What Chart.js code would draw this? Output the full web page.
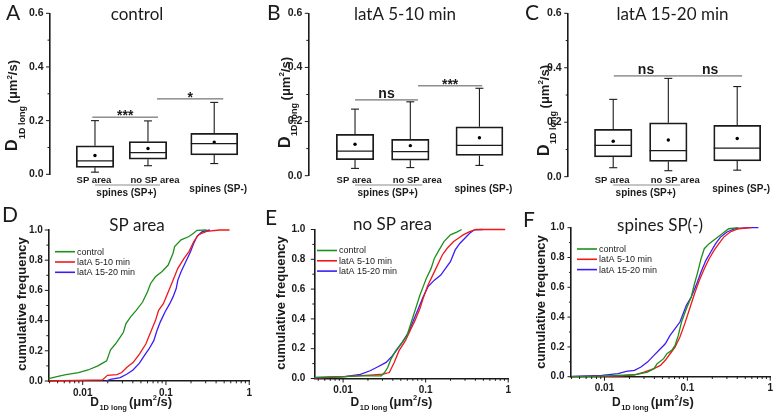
<!DOCTYPE html>
<html><head><meta charset="utf-8">
<script src="https://cdn.jsdelivr.net/npm/chart.js@4.4.1/dist/chart.umd.min.js"></script>
<style>
html,body{margin:0;padding:0;background:#fff;}
#fig{position:relative;width:779px;height:417px;overflow:hidden;background:#fff;}
#fig canvas{position:absolute;}
</style></head><body>
<div id="fig">
<canvas id="cA"></canvas><canvas id="cB"></canvas><canvas id="cC"></canvas>
<canvas id="cD"></canvas><canvas id="cE"></canvas><canvas id="cF"></canvas>
</div>
<script>
// ================= DATA =================
const boxPositions = [1, 2, 3.25];
const boxCategoryLabels = ['SP area', 'no SP area', 'spines (SP-)'];
const boxGroupLabel = 'spines (SP+)';
const boxYTicks = [0, 0.2, 0.4, 0.6];
const cdfYTicks = [0, 0.2, 0.4, 0.6, 0.8, 1.0];
const cdfXTicks = [0.01, 0.1, 1];
const seriesNames = ['control', 'latA 5-10 min', 'latA 15-20 min'];

// A: control (box plots: whisker low, Q1, median, Q3, whisker high, mean)
const ctrlLow  = [0.008, 0.032, 0.040];
const ctrlQ1   = [0.026, 0.056, 0.072];
const ctrlMed  = [0.050, 0.081, 0.114];
const ctrlQ3   = [0.106, 0.122, 0.153];
const ctrlHigh = [0.200, 0.199, 0.268];
const ctrlMean = [0.070, 0.096, 0.120];
const ctrlSig  = [[0.95, 2.19, 0.213, '***'], [2.17, 3.42, 0.281, '*']];

// B: latA 5-10 min
const lat5Low  = [0.027, 0.030, 0.038];
const lat5Q1   = [0.059, 0.057, 0.075];
const lat5Med  = [0.091, 0.089, 0.112];
const lat5Q3   = [0.153, 0.134, 0.181];
const lat5High = [0.246, 0.273, 0.323];
const lat5Mean = [0.116, 0.111, 0.140];
const lat5Sig  = [[1.0, 2.14, 0.280, 'ns'], [2.14, 3.30, 0.332, '***']];

// C: latA 15-20 min
const lat15Low  = [0.033, 0.022, 0.024];
const lat15Q1   = [0.073, 0.056, 0.058];
const lat15Med  = [0.115, 0.096, 0.105];
const lat15Q3   = [0.174, 0.198, 0.189];
const lat15High = [0.284, 0.361, 0.331];
const lat15Mean = [0.130, 0.135, 0.140];
const lat15Sig  = [[1.01, 2.18, 0.370, 'ns'], [2.18, 3.34, 0.370, 'ns']];

// D: SP area cumulative frequency
const spCtrlX = [0.0039,0.0052,0.0063,0.0089,0.0116,0.0152,0.0173,0.0194,0.0207,0.0216,0.0247,0.0282,0.0308,0.033,0.0374,0.0439,0.0524,0.0598,0.0654,0.0747,0.0891,0.1064,0.1216,0.127,0.1518,0.189,0.216,0.236,0.308];
const spCtrlY = [0.016,0.033,0.042,0.056,0.073,0.10,0.118,0.134,0.178,0.207,0.245,0.29,0.323,0.379,0.423,0.468,0.523,0.59,0.646,0.69,0.724,0.768,0.846,0.89,0.935,0.957,0.98,0.998,1.0];
const spLat5X = [0.0039,0.0173,0.0198,0.0258,0.0294,0.0337,0.0402,0.048,0.0573,0.0654,0.0747,0.0816,0.0931,0.1064,0.1216,0.1388,0.1657,0.189,0.216,0.2466,0.308,0.4385,0.58];
const spLat5Y = [0,0.007,0.038,0.042,0.056,0.089,0.122,0.178,0.245,0.323,0.40,0.468,0.512,0.59,0.668,0.746,0.813,0.857,0.924,0.969,0.991,1.0,1.0];
const spLat15X = [0.0189,0.0216,0.0282,0.0337,0.0402,0.048,0.0547,0.0625,0.0714,0.078,0.0853,0.0974,0.111,0.1216,0.1328,0.1388,0.1518,0.173,0.1977,0.216,0.236,0.27,0.337];
const spLat15Y = [0,0.011,0.022,0.045,0.073,0.118,0.167,0.212,0.267,0.334,0.39,0.457,0.512,0.557,0.612,0.668,0.724,0.79,0.857,0.913,0.958,0.987,1.0];

// E: no SP area
const nsCtrlX = [0.0045,0.0104,0.0162,0.029,0.0318,0.0347,0.038,0.0435,0.052,0.0594,0.065,0.0711,0.0778,0.0851,0.0931,0.1018,0.1164,0.1274,0.1456,0.1667,0.1995,0.238,0.273];
const nsCtrlY = [0.007,0.013,0.018,0.018,0.04,0.074,0.13,0.187,0.243,0.288,0.356,0.423,0.491,0.559,0.615,0.671,0.739,0.806,0.863,0.919,0.964,0.982,1.0];
const nsLat5X = [0.0045,0.0104,0.0212,0.0304,0.0363,0.0416,0.0476,0.0569,0.065,0.0744,0.0851,0.0931,0.1064,0.1219,0.1393,0.1592,0.1822,0.218,0.2493,0.285,0.341,0.408,0.92];
const nsLat5Y = [0.002,0.013,0.023,0.029,0.04,0.108,0.187,0.254,0.322,0.39,0.468,0.536,0.626,0.694,0.761,0.829,0.874,0.919,0.941,0.964,0.986,1.0,1.0];
const nsLat15X = [0.0045,0.0104,0.0162,0.0212,0.0254,0.0332,0.0397,0.0455,0.052,0.0622,0.0711,0.0815,0.0931,0.1064,0.1274,0.1524,0.1742,0.1995,0.228,0.2606,0.2983,0.341,0.39,0.489];
const nsLat15Y = [0.005,0.013,0.027,0.052,0.074,0.108,0.153,0.198,0.243,0.311,0.39,0.468,0.547,0.615,0.66,0.694,0.739,0.784,0.863,0.908,0.941,0.975,0.998,1.0];

// F: spines SP(-)
const smCtrlX = [0.004,0.0093,0.0146,0.023,0.033,0.0395,0.0432,0.0517,0.0566,0.0648,0.071,0.0777,0.085,0.0973,0.1114,0.1219,0.1334,0.1462,0.16,0.1832,0.2193,0.263,0.3148,0.413];
const smCtrlY = [0,0.004,0.009,0.013,0.031,0.054,0.087,0.121,0.154,0.177,0.21,0.277,0.367,0.456,0.535,0.624,0.702,0.792,0.859,0.893,0.926,0.96,0.993,1.0];
const smLat5X = [0.004,0.0146,0.023,0.0301,0.0395,0.0473,0.0541,0.0619,0.071,0.0813,0.0931,0.1065,0.1219,0.1396,0.16,0.1832,0.2098,0.24,0.2748,0.3294,0.413,0.593];
const smLat5Y = [0,0.004,0.013,0.031,0.054,0.076,0.11,0.154,0.199,0.266,0.356,0.456,0.557,0.647,0.725,0.792,0.848,0.893,0.937,0.971,0.993,1.0];
const smLat15X = [0.004,0.0093,0.0146,0.0183,0.023,0.0275,0.033,0.0395,0.0473,0.0541,0.0619,0.071,0.0813,0.0889,0.0973,0.1114,0.1276,0.1462,0.1675,0.1915,0.2193,0.2512,0.3008,0.3767,0.5408,0.72];
const smLat15Y = [0.002,0.009,0.02,0.036,0.043,0.065,0.098,0.143,0.188,0.221,0.277,0.322,0.367,0.423,0.479,0.535,0.613,0.702,0.781,0.837,0.893,0.937,0.971,0.993,1.0,1.0];

// ================= STYLE / LAYOUT =================
const F = "'Liberation Sans', Arial, sans-serif";
const TF = "Lato, 'Open Sans', sans-serif";
const INK = '#1b1b1b';
const seriesColors = ['#1d8f1d', '#f01818', '#3d1cf5'];
const boxWidthsPx = [37.5, 37.5, 47];

const boxPanels = [
  {id:'cA', cx:0,   cy:0, w:258, h:205, left:49.5,  top:13.3, bottom:174.3, right:250, xmin:0.142, xmax:3.925,
   letter:'A', letterX:6, letterY:20, title:'control', titleX:137, yTitleX:17, yTitleY:151,
   low:ctrlLow, q1:ctrlQ1, med:ctrlMed, q3:ctrlQ3, high:ctrlHigh, mean:ctrlMean, sig:ctrlSig},
  {id:'cB', cx:258, cy:0, w:259, h:205, left:308.3, top:13.3, bottom:175.7, right:512, xmin:0.155, xmax:3.839,
   letter:'B', letterX:267, letterY:20, title:'latA 5-10 min', titleX:405, yTitleX:289.5, yTitleY:148,
   low:lat5Low, q1:lat5Q1, med:lat5Med, q3:lat5Q3, high:lat5High, mean:lat5Mean, sig:lat5Sig},
  {id:'cC', cx:517, cy:0, w:262, h:205, left:567.7, top:13.3, bottom:176.7, right:776, xmin:0.174, xmax:3.954,
   letter:'C', letterX:525, letterY:20, title:'latA 15-20 min', titleX:672.5, yTitleX:548.5, yTitleY:156,
   low:lat15Low, q1:lat15Q1, med:lat15Med, q3:lat15Q3, high:lat15High, mean:lat15Mean, sig:lat15Sig}
];

const cdfPanels = [
  {id:'cD', cx:0,   cy:205, w:258, h:212, left:48.3,  top:230,   bottom:381,   right:254,   xmin:0.00386,
   letter:'D', letterX:2, letterY:221.5, title:'SP area', titleX:137, titleY:231,
   legX:55, legY:251.7, yTitleX:25.5, yTitleY:304, tickPad:5.5,
   xs:[spCtrlX, spLat5X, spLat15X], ys:[spCtrlY, spLat5Y, spLat15Y]},
  {id:'cE', cx:258, cy:205, w:259, h:212, left:314.3, top:229.5, bottom:378.5, right:514.3, xmin:0.00448,
   letter:'E', letterX:265, letterY:225, title:'no SP area', titleX:392.5, titleY:230,
   legX:317, legY:250.5, yTitleX:284.5, yTitleY:303, tickPad:9,
   xs:[nsCtrlX, nsLat5X, nsLat15X], ys:[nsCtrlY, nsLat5Y, nsLat15Y]},
  {id:'cF', cx:517, cy:205, w:262, h:212, left:571,   top:227.7, bottom:376.7, right:773.5, xmin:0.00394,
   letter:'F', letterX:523, letterY:227, title:'spines SP(-)', titleX:660, titleY:231,
   legX:577, legY:249, yTitleX:544.5, yTitleY:302, tickPad:6.5,
   xs:[smCtrlX, smLat5X, smLat15X], ys:[smCtrlY, smLat5Y, smLat15Y]}
];

// ================= HELPERS =================
function setupCanvas(p) {
  const c = document.getElementById(p.id);
  c.width = p.w; c.height = p.h;
  c.style.left = p.cx + 'px'; c.style.top = p.cy + 'px';
  c.style.width = p.w + 'px'; c.style.height = p.h + 'px';
  return c;
}
function txt(ctx, s, x, y, font, align) {
  ctx.font = font; ctx.textAlign = align || 'left'; ctx.textBaseline = 'alphabetic';
  ctx.fillStyle = INK; ctx.fillText(s, x, y);
}
function run(ctx, parts, x0, y0) {
  let x = x0;
  ctx.textAlign = 'left'; ctx.textBaseline = 'alphabetic'; ctx.fillStyle = INK;
  for (const q of parts) {
    x += q.gap || 0;
    ctx.font = q.font;
    ctx.fillText(q.t, x, y0 + (q.dy || 0));
    x += ctx.measureText(q.t).width;
  }
  return x - x0;
}
function line(ctx, x1, y1, x2, y2, color, w) {
  ctx.beginPath(); ctx.strokeStyle = color; ctx.lineWidth = w;
  ctx.moveTo(x1, y1); ctx.lineTo(x2, y2); ctx.stroke();
}
function linTicks(max, step) { const a = []; for (let i = 0; i * step <= max + 1e-9; i++) a.push(+(i * step).toFixed(3)); return a; }
function logMinor(min, max) {
  const a = [];
  for (let e = -4; e <= 0; e++) for (let m = 1; m <= 9; m++) { const v = m * Math.pow(10, e); if (v >= min * 0.999 && v <= max * 1.001) a.push(v); }
  return a;
}
const tickMarks = {
  id: 'tickMarks',
  afterDraw(chart) {
    const t = chart.$tickMarks; if (!t) return;
    const ctx = chart.ctx, ca = chart.chartArea;
    ctx.save();
    (t.y || []).forEach(([v, len]) => { const y = chart.scales.y.getPixelForValue(v); line(ctx, ca.left, y, ca.left - len, y, INK, 1); });
    (t.x || []).forEach(([v, len]) => { const x = chart.scales.x.getPixelForValue(v); line(ctx, x, ca.bottom, x, ca.bottom + len, INK, 1); });
    ctx.restore();
  }
};

// ================= BOX PLOT PANELS =================
boxPanels.forEach(p => {
  const c = setupCanvas(p);
  const bar = (idx, thick) => ({
    type: 'bar', grouped: false, barThickness: thick,
    data: idx.map(i => ({x: boxPositions[i], y: [p.q1[i], p.q3[i]]})),
    backgroundColor: 'rgba(255,255,255,0)', borderColor: INK, borderWidth: 1.1, borderSkipped: false
  });
  const chart = new Chart(c, {
    type: 'bar',
    data: { datasets: [
      bar([0, 1], boxWidthsPx[0]),
      bar([2], boxWidthsPx[2]),
      { type: 'scatter', data: boxPositions.map((x, i) => ({x, y: p.mean[i]})), pointRadius: 1.7, pointBackgroundColor: '#000', pointBorderWidth: 0 }
    ]},
    options: {
      responsive: false, animation: false, events: [],
      layout: { autoPadding: false, padding: { left: 0, top: p.top - p.cy, right: p.cx + p.w - p.right, bottom: p.cy + p.h - p.bottom } },
      plugins: { legend: {display: false}, tooltip: {enabled: false} },
      scales: {
        x: { type: 'linear', min: p.xmin, max: p.xmax, offset: false, display: false },
        y: { type: 'linear', min: 0, max: 0.6,
             afterFit: s => { s.width = p.left - p.cx; },
             afterBuildTicks: s => { s.ticks = boxYTicks.map(v => ({value: v})); },
             grid: { display: false, drawTicks: false },
             border: { display: true, color: INK, width: 1.6 },
             ticks: { padding: 6, color: INK, font: {family: F, size: 10.5, weight: 'bold'}, callback: v => v.toFixed(1) } }
      }
    },
    plugins: [tickMarks, {
      id: 'boxDeco',
      afterDatasetsDraw(ch) {
        const ctx = ch.ctx, ys = ch.scales.y;
        const els = [ch.getDatasetMeta(0).data[0], ch.getDatasetMeta(0).data[1], ch.getDatasetMeta(1).data[0]];
        ctx.save();
        els.forEach((el, i) => {
          const {x, width} = el.getProps(['x', 'width'], true);
          const yq1 = ys.getPixelForValue(p.q1[i]), yq3 = ys.getPixelForValue(p.q3[i]);
          const ylo = ys.getPixelForValue(p.low[i]), yhi = ys.getPixelForValue(p.high[i]);
          const ymd = ys.getPixelForValue(p.med[i]);
          line(ctx, x - width / 2, ymd, x + width / 2, ymd, INK, 1.3);
          line(ctx, x, yq3, x, yhi, INK, 1.1);
          line(ctx, x, yq1, x, ylo, INK, 1.1);
          line(ctx, x - 4, yhi, x + 4, yhi, INK, 1.1);
          line(ctx, x - 4, ylo, x + 4, ylo, INK, 1.1);
        });
        ctx.restore();
      },
      afterDraw(ch) {
        const ctx = ch.ctx, xs = ch.scales.x, ys = ch.scales.y, ox = p.cx, oy = p.cy;
        ctx.save();
        // significance bars
        p.sig.forEach(([a, b, v, lab]) => {
          const x1 = xs.getPixelForValue(a), x2 = xs.getPixelForValue(b), y = ys.getPixelForValue(v);
          line(ctx, x1, y, x2, y, '#555', 1);
          if (lab === 'ns') txt(ctx, lab, (x1 + x2) / 2, y - 1.5, 'bold 14px ' + F, 'center');
          else txt(ctx, lab, (x1 + x2) / 2, y + 3, 'bold 14px ' + F, 'center');
        });
        // category labels
        const px = boxPositions.map(v => xs.getPixelForValue(v));
        txt(ctx, boxCategoryLabels[0], px[0] - 1, 182.5 - oy, 'bold 9.5px ' + F, 'center');
        txt(ctx, boxCategoryLabels[1], px[1] + 7, 182.5 - oy, 'bold 9.5px ' + F, 'center');
        txt(ctx, boxCategoryLabels[2], px[2] + 4, 191.5 - oy, 'bold 10px ' + F, 'center');
        txt(ctx, boxGroupLabel, (px[0] + px[1]) / 2 + 5, 195.5 - oy, 'bold 10px ' + F, 'center');
        line(ctx, px[0], 185 - oy, px[1] + 12, 185 - oy, '#8a8a8a', 1);
        // titles
        txt(ctx, p.letter, p.letterX - ox, p.letterY - oy, '21px ' + TF, 'left');
        txt(ctx, p.title, p.titleX - ox, 19.5 - oy, '17px ' + TF, 'center');
        // rotated y title
        ctx.translate(p.yTitleX - ox, p.yTitleY - oy);
        ctx.rotate(-Math.PI / 2);
        run(ctx, [
          {t: 'D', font: 'bold 16px ' + F},
          {t: '1D long', font: 'bold 9px ' + F, dy: 7.5, gap: 0.5},
          {t: '(\u03bcm', font: 'bold 13px ' + F, gap: 2.5},
          {t: '2', font: 'bold 8px ' + F, dy: -5.5},
          {t: '/s)', font: 'bold 13px ' + F}
        ], 0, 0);
        ctx.restore();
      }
    }]
  });
  chart.$tickMarks = { y: linTicks(0.6, 0.1).map(v => [v, Math.round(v * 10) % 2 === 0 ? 3.5 : 2]) };
  chart.draw();
});

// ================= CUMULATIVE FREQUENCY PANELS =================
cdfPanels.forEach(p => {
  const c = setupCanvas(p);
  const xAxisH = 24;
  const chart = new Chart(c, {
    type: 'line',
    data: { datasets: seriesNames.map((name, k) => ({
      label: name,
      data: p.xs[k].map((x, i) => ({x, y: p.ys[k][i]})),
      borderColor: seriesColors[k], borderWidth: 1.3, pointRadius: 0, tension: 0, fill: false, clip: false
    }))},
    options: {
      responsive: false, animation: false, events: [],
      layout: { autoPadding: false, padding: { left: 0, top: p.top - p.cy, right: p.cx + p.w - p.right, bottom: p.cy + p.h - p.bottom - xAxisH } },
      plugins: { legend: {display: false}, tooltip: {enabled: false} },
      scales: {
        x: { type: 'logarithmic', min: p.xmin, max: 1,
             afterFit: s => { s.height = xAxisH; },
             afterBuildTicks: s => { s.ticks = cdfXTicks.map(v => ({value: v})); },
             grid: { display: false, drawTicks: false },
             border: { display: true, color: INK, width: 1.6 },
             ticks: { padding: 6, color: INK, autoSkip: false, maxRotation: 0, font: {family: F, size: 10, weight: 'bold'}, callback: v => String(v) } },
        y: { type: 'linear', min: 0, max: 1,
             afterFit: s => { s.width = p.left - p.cx; },
             afterBuildTicks: s => { s.ticks = cdfYTicks.map(v => ({value: v})); },
             grid: { display: false, drawTicks: false },
             border: { display: true, color: INK, width: 1.6 },
             ticks: { padding: p.tickPad, color: INK, font: {family: F, size: 10, weight: 'bold'}, callback: v => v.toFixed(1) } }
      }
    },
    plugins: [tickMarks, {
      id: 'cdfDeco',
      afterDraw(ch) {
        const ctx = ch.ctx, ox = p.cx, oy = p.cy;
        ctx.save();
        // legend
        ch.data.datasets.forEach((ds, k) => {
          const y = p.legY + k * 10.3 - oy;
          line(ctx, p.legX - ox, y, p.legX + 20 - ox, y, ds.borderColor, 1.6);
          ctx.font = '9px ' + F; ctx.fillStyle = INK; ctx.textAlign = 'left'; ctx.textBaseline = 'middle';
          ctx.fillText(ds.label, p.legX + 22 - ox, y + 0.5);
        });
        // titles
        txt(ctx, p.letter, p.letterX - ox, p.letterY - oy, '21px ' + TF, 'left');
        txt(ctx, p.title, p.titleX - ox, p.titleY - oy, '17px ' + TF, 'center');
        // x title
        const x0 = ch.scales.x.getPixelForValue(0.01) + 7.5;
        run(ctx, [
          {t: 'D', font: 'bold 12px ' + F},
          {t: '1D long', font: 'bold 7.5px ' + F, dy: 4, gap: 0.5},
          {t: '(\u03bcm', font: 'bold 13px ' + F, gap: 2},
          {t: '2', font: 'bold 7.5px ' + F, dy: -6},
          {t: '/s)', font: 'bold 13px ' + F}
        ], x0, 406 - oy);
        // y title
        ctx.translate(p.yTitleX - ox, p.yTitleY - oy);
        ctx.rotate(-Math.PI / 2);
        txt(ctx, 'cumulative frequency', 0, 0, 'bold 13px ' + F, 'center');
        ctx.restore();
      }
    }]
  });
  const xt = logMinor(p.xmin, 1).map(v => [v, cdfXTicks.some(t => Math.abs(t - v) < 1e-9) ? 4 : 2.3]);
  chart.$tickMarks = { y: linTicks(1, 0.1).map(v => [v, Math.round(v * 10) % 2 === 0 ? 3.5 : 2]), x: xt };
  chart.draw();
});
</script>
</body></html>
